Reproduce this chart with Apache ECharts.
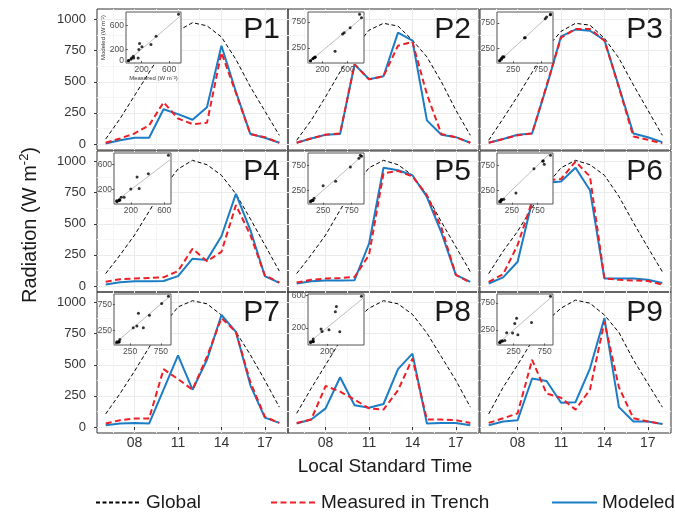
<!DOCTYPE html>
<html><head><meta charset="utf-8">
<script src="https://cdn.jsdelivr.net/npm/echarts@6/dist/echarts.min.js"></script>
<style>html,body{margin:0;padding:0;background:#fff}#c{width:675px;height:514px}</style>
</head><body><div id="c"></div>
<script>
const hours = [6,7,8,9,10,11,12,13,14,15,16,17,18];
const panelNames = ['P1','P2','P3','P4','P5','P6','P7','P8','P9'];
const xTickValues = [8,11,14,17];
const xTickLabels = ['08','11','14','17'];
const xMinorValues = [6.5,9.5,12.5,15.5,18.5];
const yTickValues = [0,250,500,750,1000];
const yTickLabels = ['0','250','500','750','1000'];
const yMinorValues = [125,375,625,875];

const globalP1 = [40,205,390,575,760,910,975,950,860,680,460,265,70];
const measuredP1 = [10,45,85,150,335,205,160,170,735,410,80,55,10];
const modeledP1 = [5,30,50,50,280,240,195,295,790,420,80,50,10];
const globalP2 = [30,190,380,580,770,915,970,948,835,700,500,272,70];
const measuredP2 = [10,45,75,85,640,520,545,790,820,400,80,55,10];
const modeledP2 = [10,45,75,80,640,520,545,895,830,190,75,55,10];
const globalP3 = [30,205,385,575,770,905,970,955,850,690,475,272,70];
const measuredP3 = [10,40,70,85,470,855,925,925,830,455,60,35,5];
const modeledP3 = [10,40,75,85,460,865,920,910,835,460,85,55,15];
const globalP4 = [100,250,410,600,790,940,1010,975,890,740,540,330,120];
const measuredP4 = [35,55,60,65,70,120,300,200,275,650,410,85,30];
const modeledP4 = [12,30,38,38,40,80,220,210,400,740,450,80,25];
const globalP5 = [100,250,410,610,800,950,1010,975,890,730,515,315,115];
const measuredP5 = [28,50,60,65,72,250,905,925,880,730,470,90,28];
const modeledP5 = [20,38,45,45,47,340,950,930,890,715,430,90,33];
const globalP6 = [100,280,440,630,810,950,1010,975,890,720,510,310,115];
const measuredP6 = [33,95,330,680,850,860,1000,880,60,50,45,40,12];
const modeledP6 = [20,70,195,680,830,840,950,770,60,60,60,50,25];
const globalP7 = [105,270,450,640,820,965,1015,990,900,765,580,375,160];
const measuredP7 = [28,55,68,68,465,385,300,565,875,765,360,82,33];
const modeledP7 = [15,28,33,28,300,575,300,540,900,765,335,76,33];
const globalP8 = [110,310,500,690,850,955,1015,990,905,755,565,375,160];
const measuredP8 = [33,60,330,285,220,150,140,295,550,60,60,55,33];
const modeledP8 = [28,60,150,400,175,155,185,465,590,28,33,33,15];
const globalP9 = [105,320,500,690,850,955,1020,995,900,760,540,350,160];
const measuredP9 = [33,70,110,540,270,235,140,300,845,320,70,45,25];
const modeledP9 = [15,45,55,390,370,195,200,470,875,160,45,45,25];

const insetXTicks = [[200,600],[200,600],[250,750],[200,600],[250,750],[250,750],[250,750],[200,600],[250,750]];
const insetYTicks = [[0,200,600],[250,750],[250,750],[200,600],[250,750],[250,750],[250,750],[200,600],[250,750]];

const panels = [
  [globalP1, measuredP1, modeledP1], [globalP2, measuredP2, modeledP2], [globalP3, measuredP3, modeledP3],
  [globalP4, measuredP4, modeledP4], [globalP5, measuredP5, modeledP5], [globalP6, measuredP6, modeledP6],
  [globalP7, measuredP7, modeledP7], [globalP8, measuredP8, modeledP8], [globalP9, measuredP9, modeledP9]
];

// layout
const FONT = 'Liberation Sans, Arial, Helvetica, sans-serif';
const colLeft = [97, 288, 480], colW = 191;
const rowTop = [9, 151, 292], rowH = 141;
const insetBox = [[126,12,55,51],[308,12,56,51],[497,12,56,51],[114,153,57,51],[308,153,56,51],[497,153,56,51],[114,294,57,51],[308,294,56,51],[497,294,56,51]];
const X_MIN = 5.4, X_MAX = 18.6, Y_MIN = -48, Y_MAX = 1085;
const C_GLOBAL = '#000000', C_MEAS = '#ee1f26', C_MOD = '#1b7dc5';

function expand(a) {
  const mn = Math.min(...a), mx = Math.max(...a), r = mx - mn;
  return [mn - 0.05 * r, mx + 0.05 * r];
}

const grid = [], xAxis = [], yAxis = [], series = [], graphic = [];

panels.forEach((p, i) => {
  const r = Math.floor(i / 3), c = i % 3;
  grid.push({left: colLeft[c], top: rowTop[r], width: colW, height: rowH, show: true,
    borderColor: '#333', borderWidth: 1, backgroundColor: 'rgba(0,0,0,0)', z: 0});
  const gi = grid.length - 1;
  xAxis.push({type: 'value', gridIndex: gi, min: X_MIN, max: X_MAX, position: 'bottom',
    axisLine: {show: false},
    axisTick: {show: r === 2, customValues: xTickValues, length: 3, lineStyle: {color: '#333'}},
    axisLabel: {show: r === 2, customValues: xTickValues, formatter: v => xTickLabels[xTickValues.indexOf(v)],
      fontSize: 14, color: '#333', margin: 3, fontFamily: FONT},
    splitLine: {show: true, lineStyle: {color: '#ebebeb', width: 1}}});
  const xi = xAxis.length - 1;
  xAxis.push({type: 'value', gridIndex: gi, min: X_MIN, max: X_MAX, position: 'top',
    axisLine: {show: false}, axisTick: {show: false, customValues: xMinorValues},
    axisLabel: {show: false, customValues: xMinorValues},
    splitLine: {show: true, lineStyle: {color: '#f5f5f5', width: 1}}});
  yAxis.push({type: 'value', gridIndex: gi, min: Y_MIN, max: Y_MAX, position: 'left',
    axisLine: {show: false},
    axisTick: {show: c === 0, customValues: yTickValues, length: 3, lineStyle: {color: '#333'}},
    axisLabel: {show: c === 0, customValues: yTickValues, formatter: v => yTickLabels[yTickValues.indexOf(v)],
      fontSize: 13, color: '#333', margin: 11, fontFamily: FONT},
    splitLine: {show: true, lineStyle: {color: '#ebebeb', width: 1}}});
  const yi = yAxis.length - 1;
  yAxis.push({type: 'value', gridIndex: gi, min: Y_MIN, max: Y_MAX, position: 'right',
    axisLine: {show: false}, axisTick: {show: false, customValues: yMinorValues},
    axisLabel: {show: false, customValues: yMinorValues},
    splitLine: {show: true, lineStyle: {color: '#f5f5f5', width: 1}}});

  const mk = arr => hours.map((h, k) => [h, arr[k]]);
  series.push({name: 'Global', type: 'line', xAxisIndex: xi, yAxisIndex: yi, data: mk(p[0]), symbol: 'none',
    z: 3, lineStyle: {color: C_GLOBAL, width: 1, type: [4, 2.5]}, itemStyle: {color: C_GLOBAL}});
  series.push({name: 'Modeled', type: 'line', xAxisIndex: xi, yAxisIndex: yi, data: mk(p[2]), symbol: 'none',
    z: 4, lineStyle: {color: C_MOD, width: 2}, itemStyle: {color: C_MOD}});
  series.push({name: 'Measured in Trench', type: 'line', xAxisIndex: xi, yAxisIndex: yi, data: mk(p[1]), symbol: 'none',
    z: 5, lineStyle: {color: C_MEAS, width: 2, type: [6, 3.5]}, itemStyle: {color: C_MEAS}});

  graphic.push({type: 'text', x: colLeft[c] + colW - 8, y: rowTop[r] + 21, z: 50,
    style: {text: panelNames[i], align: 'right', textAlign: 'right', verticalAlign: 'middle', textVerticalAlign: 'middle',
      fontSize: 30, fontFamily: FONT, fill: '#1a1a1a'}});
});

// insets
panels.forEach((p, i) => {
  const b = insetBox[i];
  grid.push({left: b[0], top: b[1], width: b[2], height: b[3], show: true,
    borderColor: '#555', borderWidth: 1, backgroundColor: '#ffffff', z: 10});
  const gi = grid.length - 1;
  const ex = expand(p[1]), ey = expand(p[2]);
  const lbl = {fontSize: 8.5, color: '#4d4d4d', fontFamily: FONT};
  const xa = {type: 'value', gridIndex: gi, min: ex[0], max: ex[1], z: 11,
    axisLine: {show: false},
    axisTick: {show: true, customValues: insetXTicks[i], length: 2, lineStyle: {color: '#555'}},
    axisLabel: Object.assign({customValues: insetXTicks[i], margin: 2}, lbl),
    splitLine: {show: false}};
  const ya = {type: 'value', gridIndex: gi, min: ey[0], max: ey[1], z: 11,
    axisLine: {show: false},
    axisTick: {show: true, customValues: insetYTicks[i], length: 2, lineStyle: {color: '#555'}},
    axisLabel: Object.assign({customValues: insetYTicks[i], margin: 2}, lbl),
    splitLine: {show: false}};
  if (i === 0) {
    xa.name = 'Measured (W m\u207B\u00B2)'; xa.nameLocation = 'middle'; xa.nameGap = 12;
    xa.nameTextStyle = {fontSize: 6, color: '#333', fontFamily: FONT};
    ya.name = 'Modeled (W m\u207B\u00B2)'; ya.nameLocation = 'middle'; ya.nameGap = 17;
    ya.nameTextStyle = {fontSize: 6, color: '#333', fontFamily: FONT};
  }
  xAxis.push(xa); yAxis.push(ya);
  const xi = xAxis.length - 1, yi = yAxis.length - 1;
  series.push({type: 'line', xAxisIndex: xi, yAxisIndex: yi, data: [[-5000, -5000], [5000, 5000]],
    symbol: 'none', clip: true, z: 11, silent: true, lineStyle: {color: '#bdbdbd', width: 1}});
  series.push({type: 'scatter', xAxisIndex: xi, yAxisIndex: yi, data: p[1].map((m, k) => [m, p[2][k]]),
    symbolSize: 3, z: 12, itemStyle: {color: '#000'}});
});

graphic.push({type: 'text', x: 385, y: 467, z: 50,
  style: {text: 'Local Standard Time', align: 'center', textAlign: 'center', verticalAlign: 'middle', textVerticalAlign: 'middle',
    fontSize: 19, fontFamily: FONT, fill: '#1a1a1a'}});
graphic.push({type: 'text', x: 30, y: 225, rotation: Math.PI / 2, z: 50,
  style: {text: 'Radiation (W m{sup|-2})', align: 'center', textAlign: 'center', verticalAlign: 'middle', textVerticalAlign: 'middle',
    fontSize: 20, fontFamily: FONT, fill: '#1a1a1a',
    rich: {sup: {fontSize: 13, fontFamily: FONT, fill: '#1a1a1a', lineHeight: 13, padding: [0, 0, 12, 0]}}}});

const legCommon = {itemWidth: 45, itemHeight: 14, selectedMode: false, padding: 0, top: 493,
  textStyle: {fontSize: 19, color: '#1a1a1a', fontFamily: FONT}, itemStyle: {opacity: 0}};
const legend = [
  Object.assign({data: ['Global'], left: 95}, legCommon),
  Object.assign({data: ['Measured in Trench'], left: 270}, legCommon),
  Object.assign({data: ['Modeled'], left: 551}, legCommon)
];

const chart = echarts.init(document.getElementById('c'), null, {renderer: 'canvas'});
chart.setOption({animation: false, backgroundColor: '#fff', grid, xAxis, yAxis, series, graphic, legend});
</script></body></html>
